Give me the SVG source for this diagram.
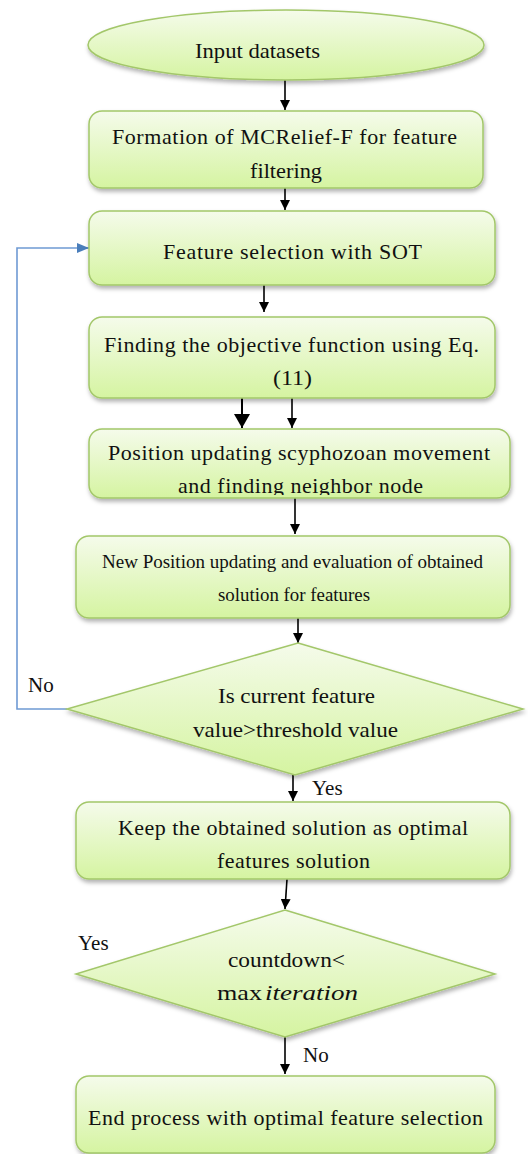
<svg xmlns="http://www.w3.org/2000/svg" width="528" height="1154" viewBox="0 0 528 1154">
<style>
  .node { fill: url(#g); stroke: #a3c76a; stroke-width: 1.5; filter: url(#sh); }
  .t { font-family: "Liberation Serif", "Times New Roman", serif; font-size: 22px; fill: #111; }
  .s { font-size: 18px; }
  .lbl { font-family: "Liberation Serif", "Times New Roman", serif; font-size: 21px; fill: #111; }
  .arr { stroke: #000; stroke-width: 1.6; fill: none; marker-end: url(#ah); }
  .arrb { stroke: #000; stroke-width: 2; fill: none; marker-end: url(#ahb); }
  .fb { stroke: #6f9ad4; stroke-width: 1.6; fill: none; marker-end: url(#ahblue); }
</style>
<defs>
  <linearGradient id="g" x1="0" y1="0" x2="0" y2="1">
    <stop offset="0" stop-color="#f5fbeb"/>
    <stop offset="1" stop-color="#d5f4a1"/>
  </linearGradient>
  <filter id="sh" x="-10%" y="-10%" width="120%" height="130%">
    <feDropShadow dx="1" dy="3" stdDeviation="2" flood-color="#000" flood-opacity="0.3"/>
  </filter>
  <marker id="ah" markerUnits="userSpaceOnUse" markerWidth="10" markerHeight="10" refX="10" refY="5" orient="auto">
    <path d="M0,0 L10,5 L0,10 z" fill="#000"/>
  </marker>
  <marker id="ahb" markerUnits="userSpaceOnUse" markerWidth="14" markerHeight="16" refX="14" refY="8" orient="auto">
    <path d="M0,0 L14,8 L0,16 z" fill="#000"/>
  </marker>
  <marker id="ahblue" markerUnits="userSpaceOnUse" markerWidth="12" markerHeight="10" refX="12" refY="5" orient="auto">
    <path d="M0,0 L12,5 L0,10 z" fill="#4a7ebb"/>
  </marker>
  <clipPath id="c5"><rect x="89" y="429" width="421" height="66" rx="13"/></clipPath>
</defs>

<g id="connectors">
  <line class="arr" x1="285" y1="80" x2="285" y2="110"/>
  <line class="arr" x1="285" y1="188" x2="285" y2="210"/>
  <line class="arr" x1="264" y1="285" x2="264" y2="312"/>
  <line class="arrb" x1="242" y1="383" x2="242" y2="428"/>
  <line class="arr" x1="292" y1="398" x2="292" y2="428"/>
  <line class="arr" x1="295" y1="498" x2="295" y2="534"/>
  <line class="arr" x1="298" y1="618" x2="298" y2="643"/>
  <line class="arr" x1="293" y1="775" x2="293" y2="801"/>
  <line class="arr" x1="287" y1="879" x2="285" y2="909"/>
  <line class="arr" x1="285" y1="1037" x2="285" y2="1074"/>
  <polyline class="fb" points="67,709 17,709 17,248 89,248"/>
  <text class="lbl" x="28" y="692">No</text>
  <text class="lbl" x="312" y="795">Yes</text>
  <text class="lbl" x="78" y="950">Yes</text>
  <text class="lbl" x="303" y="1062">No</text>
</g>

<g id="n1">
  <ellipse class="node" cx="286" cy="45" rx="198" ry="35"/>
  <text class="t" x="195" y="58" textLength="125" lengthAdjust="spacingAndGlyphs">Input datasets</text>
</g>

<g id="n2">
  <rect class="node" x="89" y="111" width="394" height="77" rx="13"/>
  <text class="t" x="112" y="144" textLength="345" lengthAdjust="spacing">Formation of MCRelief-F for feature</text>
  <text class="t" x="250" y="178" textLength="72" lengthAdjust="spacingAndGlyphs">filtering</text>
</g>

<g id="n3">
  <rect class="node" x="89" y="211" width="406" height="74" rx="13"/>
  <text class="t" x="163" y="259" textLength="259" lengthAdjust="spacing">Feature selection with SOT</text>
</g>

<g id="n4">
  <rect class="node" x="89" y="317" width="406" height="81" rx="13"/>
  <text class="t" x="104" y="352" textLength="375" lengthAdjust="spacing">Finding the objective  function using Eq.</text>
  <text class="t" x="273" y="385" textLength="39" lengthAdjust="spacingAndGlyphs">(11)</text>
</g>

<g id="n5">
  <rect class="node" x="89" y="429" width="421" height="69" rx="13"/>
  <text class="t" x="108" y="460" textLength="382" lengthAdjust="spacing">Position updating scyphozoan movement</text>
  <text class="t" x="178" y="493" textLength="245" lengthAdjust="spacing" clip-path="url(#c5)">and finding neighbor node</text>
</g>

<g id="n6">
  <rect class="node" x="76" y="536" width="434" height="82" rx="13"/>
  <text class="t s" x="102" y="568" textLength="381" lengthAdjust="spacingAndGlyphs">New Position updating and evaluation of obtained</text>
  <text class="t s" x="218" y="601" textLength="152" lengthAdjust="spacingAndGlyphs">solution for features</text>
</g>

<g id="n7">
  <polygon class="node" points="298,643 523,709 295,775 67,709"/>
  <text class="t" x="218" y="703" textLength="157" lengthAdjust="spacingAndGlyphs">Is current feature</text>
  <text class="t" x="193" y="737" textLength="205" lengthAdjust="spacingAndGlyphs">value&gt;threshold value</text>
</g>

<g id="n8">
  <rect class="node" x="76" y="802" width="434" height="77" rx="13"/>
  <text class="t" x="118" y="835" textLength="350" lengthAdjust="spacing">Keep the obtained solution as optimal</text>
  <text class="t" x="217" y="868" textLength="153" lengthAdjust="spacing">features  solution</text>
</g>

<g id="n9">
  <polygon class="node" points="285,910 495,974 285,1037 76,974"/>
  <text class="t" x="228" y="967" textLength="117" lengthAdjust="spacingAndGlyphs">countdown&lt;</text>
  <text class="t" x="217" y="1000" textLength="45" lengthAdjust="spacingAndGlyphs">max</text>
  <text class="t" x="265" y="1000" font-style="italic" textLength="93" lengthAdjust="spacingAndGlyphs">iteration</text>
</g>

<g id="n10">
  <rect class="node" x="76" y="1076" width="419" height="77" rx="13"/>
  <text class="t" x="88" y="1125" textLength="395" lengthAdjust="spacing">End process with optimal  feature selection</text>
</g>
</svg>
